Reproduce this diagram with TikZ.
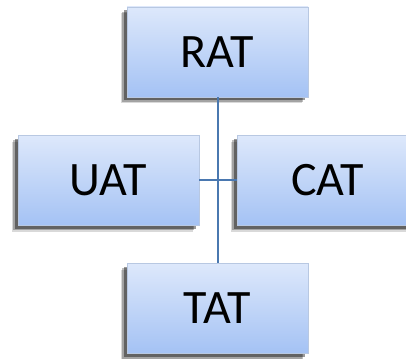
\documentclass[tikz,border=0pt]{standalone}
\usepackage{fontspec}
\setmainfont{Carlito}
\definecolor{boxtop}{HTML}{DDE8FB}
\definecolor{boxbot}{HTML}{A4C2F4}
\definecolor{boxedge}{HTML}{B8C8E2}
\definecolor{linkc}{HTML}{4A78B0}
\tikzset{
  box/.style={draw=boxedge, line width=0.8pt, top color=boxtop, bottom color=boxbot,
    minimum width=181pt, minimum height=90pt, inner sep=0pt,
    font=\fontsize{48}{52}\selectfont,
    preaction={fill=black, opacity=0.15, transform canvas={xshift=-6.5pt,yshift=-6.5pt}},
    preaction={fill=black, opacity=0.25, transform canvas={xshift=-5pt,yshift=-5pt}},
    preaction={fill=black, opacity=0.4, transform canvas={xshift=-3.5pt,yshift=-3.5pt}}},
  link/.style={draw=linkc, line width=2pt}
}
\begin{document}
\begin{tikzpicture}[x=1pt,y=1pt]
\useasboundingbox (0,0) rectangle (406,358);
\begin{scope}
\clip (0,0) rectangle (406,358);
\node[box] (rat) at (217.5,306) {RAT};
\node[box] (uat) at (108.5,177.5) {UAT};
\node[box] (cat) at (327.5,177.5) {CAT};
\node[box] (tat) at (217.5,49.5) {TAT};
\draw[link] (rat.south) -- (tat.north);
\draw[link] (uat.east) -- (cat.west);
\end{scope}
\end{tikzpicture}
\end{document}
